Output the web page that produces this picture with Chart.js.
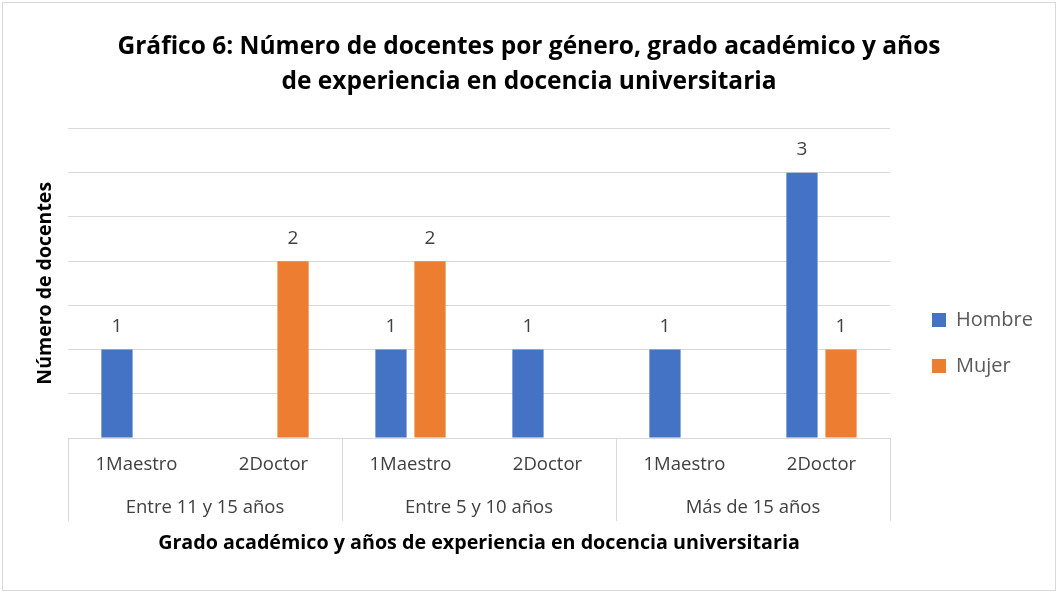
<!DOCTYPE html>
<html>
<head>
<meta charset="utf-8">
<script src="https://cdn.jsdelivr.net/npm/chart.js@4/dist/chart.umd.min.js"></script>
<style>
  body { margin: 0; background: #fff; }
  #wrap {
    position: absolute; left: 2px; top: 2px;
    width: 1052px; height: 587px;
    border: 1px solid #d9d9d9;
  }
</style>
</head>
<body>
<div id="wrap"><canvas id="myChart"></canvas></div>
<script>
const grupos = ['Entre 11 y 15 años', 'Entre 5 y 10 años', 'Más de 15 años'];
const grados = ['1Maestro', '2Doctor'];
const hombre = [1, null, 1, 1, 1, 3];
const mujer = [null, 2, 2, null, null, 1];

const categorias = grupos.flatMap(() => grados);

const fuente = "'Open Sans', sans-serif";
const gris = '#d9d9d9';

// etiquetas de valor encima de cada barra
const valueLabels = {
    id: 'valueLabels',
    afterDatasetsDraw(chart) {
        const ctx = chart.ctx;
        ctx.save();
        ctx.font = '19px ' + fuente;
        ctx.fillStyle = '#404040';
        ctx.textAlign = 'center';
        ctx.textBaseline = 'middle';
        chart.data.datasets.forEach((ds, i) => {
            chart.getDatasetMeta(i).data.forEach((bar, j) => {
                if (ds.data[j] == null) return;
                ctx.fillText(ds.data[j], bar.x, bar.y - 23);
            });
        });
        ctx.restore();
    }
};

// lineas que separan los grupos del eje x
const groupLines = {
    id: 'groupLines',
    afterDraw(chart) {
        const ctx = chart.ctx;
        const area = chart.chartArea;
        const x2 = chart.scales.x2;
        const step = (area.right - area.left) / grupos.length;
        ctx.save();
        ctx.strokeStyle = gris;
        ctx.lineWidth = 1;
        for (let i = 0; i <= grupos.length; i++) {
            const x = Math.round(area.left + i * step) + 0.5;
            ctx.beginPath();
            ctx.moveTo(x, area.bottom);
            ctx.lineTo(x, x2.top + 36);
            ctx.stroke();
        }
        ctx.restore();
    }
};

// ancho y posicion de la leyenda
const legendPlace = {
    id: 'legendPlace',
    beforeLayout(chart) {
        const lg = chart.legend;
        if (!lg || lg._fixed) return;
        const fit = lg.fit;
        lg.fit = function () { fit.call(this); this.width = 165; };
        lg._fixed = true;
    },
    afterLayout(chart) {
        const lg = chart.legend;
        lg.left += 16; lg.right += 16;
        lg.top += 281; lg.bottom += 281;
    }
};

const data = {
    labels: categorias,
    datasets: [
        { label: 'Hombre', data: hombre, backgroundColor: '#4472C4' },
        { label: 'Mujer', data: mujer, backgroundColor: '#ED7D31' }
    ]
};

const config = {
    type: 'bar',
    data: data,
    options: {
        responsive: true,
        maintainAspectRatio: false,
        animation: false,
        layout: { padding: 0 },
        datasets: { bar: { categoryPercentage: 0.57, barPercentage: 0.8 } },
        plugins: {
            title: {
                display: true,
                text: ['Gráfico 6: Número de docentes por género, grado académico y años',
                       'de experiencia en docencia universitaria'],
                color: '#000',
                font: { family: fuente, size: 24.5, weight: 'bold', lineHeight: 1.44 },
                padding: { top: 26, bottom: 29 }
            },
            legend: {
                position: 'right',
                align: 'start',
                labels: {
                    color: '#595959',
                    font: { family: fuente, size: 20 },
                    boxWidth: 14, boxHeight: 14,
                    padding: 26
                }
            },
            tooltip: { enabled: false }
        },
        scales: {
            x: {
                grid: { display: false, drawTicks: false },
                border: { display: true, color: gris },
                ticks: {
                    color: '#404040',
                    font: { family: fuente, size: 18.5 },
                    padding: 16, autoSkip: false, maxRotation: 0
                },
                afterFit(scale) { scale.height = 47; }
            },
            x2: {
                type: 'category',
                position: 'bottom',
                weight: 1,
                labels: grupos,
                offset: true,
                grid: { display: false, drawTicks: false },
                border: { display: false },
                ticks: {
                    color: '#404040',
                    font: { family: fuente, size: 18.5 },
                    padding: 12, autoSkip: false, maxRotation: 0
                },
                title: {
                    display: true,
                    text: 'Grado académico y años de experiencia en docencia universitaria',
                    color: '#000',
                    font: { family: fuente, size: 19.7, weight: 'bold' },
                    padding: { top: 0, bottom: 35 }
                },
                afterFit(scale) { scale.height = 105; }
            },
            y: {
                min: 0,
                max: 3.5,
                ticks: { display: false, stepSize: 0.5 },
                grid: { color: gris, drawTicks: false },
                border: { display: false },
                title: {
                    display: true,
                    text: 'Número de docentes',
                    color: '#000',
                    font: { family: fuente, size: 19.5, weight: 'bold' },
                    padding: { top: 31, bottom: 0 }
                },
                afterFit(scale) { scale.width = 65; }
            }
        }
    },
    plugins: [valueLabels, groupLines, legendPlace]
};

const myChart = new Chart(document.getElementById('myChart'), config);
</script>
</body>
</html>
